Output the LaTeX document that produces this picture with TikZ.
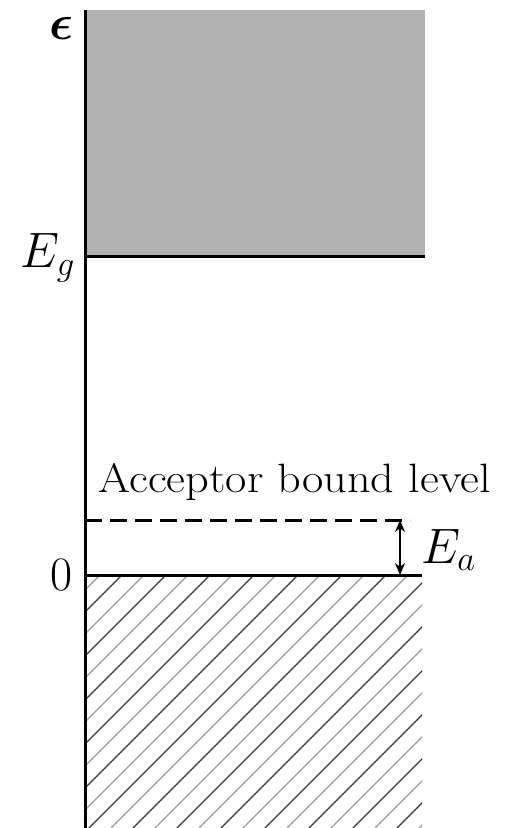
\documentclass[tikz,border=0pt]{standalone}
\usepackage{amsmath}
\usetikzlibrary{arrows.meta}
\begin{document}
\begin{tikzpicture}[x=0.5pt,y=-0.5pt,
  band/.style={line width=1.5pt},
  lbl/.style={inner sep=0pt,font=\fontsize{24}{28}\selectfont},
  txt/.style={inner sep=0pt,font=\fontsize{20.5}{24}\selectfont},
  hatchdark/.style={line width=0.6pt,black!80},
  hatchlight/.style={line width=0.6pt,black!40}]
\useasboundingbox (0,0) rectangle (505,828);
% named points
\coordinate (cbtl) at (85,10);
\coordinate (cbbr) at (425,257);
\coordinate (cbbl) at (85,257);
\coordinate (axbot) at (85,828);
\coordinate (accl) at (85,520);
\coordinate (accr) at (410,520);
\coordinate (vbl) at (85,575);
\coordinate (vbr) at (422,575);
\coordinate (arrtop) at (400,520);
\coordinate (arrbot) at (400,575);
% conduction band
\fill[black!30] (cbtl) rectangle (cbbr);
\draw[band] (cbbl) -- (cbbr);
% valence band hatching
\begin{scope}
  \clip (85,575) rectangle (422,828);
  \foreach \xs in {-175,-131,...,440}
    \draw[hatchdark] (\xs,828) -- ++(260,-260);
  \foreach \xs in {-153,-109,...,440}
    \draw[hatchlight] (\xs,828) -- ++(260,-260);
\end{scope}
\draw[band] (vbl) -- (vbr);
% acceptor level
\draw[band,dash pattern=on 8.5pt off 4pt] (accl) -- (accr);
\draw[line width=1.2pt,{Stealth[length=6pt,width=5pt]}-{Stealth[length=6pt,width=5pt]}] (arrtop) -- (arrbot);
% axis
\draw[band] (cbtl) -- (axbot);
% labels
\node[lbl] (eps) at (62,28) {$\boldsymbol{\epsilon}$};
\node[lbl] (eg) at (48,258) {$E_g$};
\node[lbl] (zero) at (62,575) {0};
\node[txt,anchor=base west] (acc) at (98,492) {\scalebox{1.13}[1]{Acceptor bound level}};
\node[lbl,anchor=west] (ea) at (421,550) {$E_a$};
\end{tikzpicture}
\end{document}
